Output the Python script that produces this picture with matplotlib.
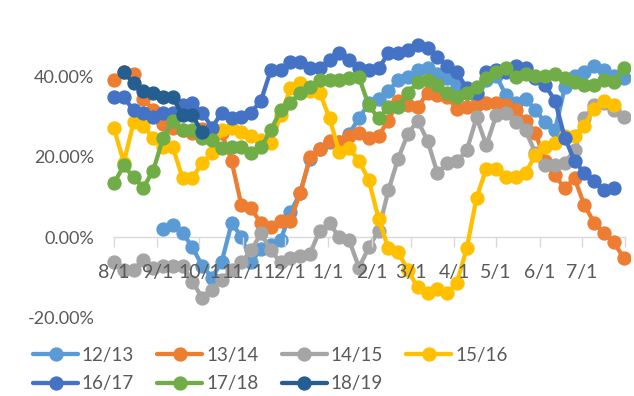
import numpy as np
import matplotlib
matplotlib.use("Agg")
import matplotlib.pyplot as plt
from matplotlib.ticker import FixedLocator, FuncFormatter

plt.rcParams['font.family'] = ['Lato', 'DejaVu Sans']
plt.rcParams['axes.unicode_minus'] = False

# weekly values (%), each series starts at week index *_start (week 0 = 8/1)
s1213_start = 5
s1213 = [2.2, 3.0, 1.2, -2.5, -7, -10, -6, 3.5, 0.2, -6,
         -3, -2, -0.7, 6.2, 11, 19.6, 22, 23.6, 23.6, 25.8,
         29.6, 33.3, 34.5, 36.5, 39, 39.8, 41.5, 42, 40.7, 39.5,
         37.8, 35.8, 34.8, 39, 40.2, 35.3, 33.5, 34.5, 31.6, 28.6,
         26.6, 37.3, 40.2, 41, 42.7, 41.5, 40.2, 39.5]
s1314_start = 0
s1314 = [39, 41, 40.7, 34.5, 31.6, 28.3, 27.3, 26.6, 26, 27,
         27, 26, 19, 8, 7.2, 3.5, 2.5, 4.2, 4.2, 11,
         19.9, 22, 24, 23.6, 25.3, 26, 24.8, 25.3, 29, 34,
         32.8, 32.3, 36, 35.3, 34.8, 32, 32.3, 32.8, 33.3, 33.3,
         32.8, 31.6, 29, 26, 19, 15.4, 12.2, 14.7, 8, 3.7,
         1, -1.2, -5]
s1415_start = 0
s1415 = [-6, -8, -8, -5.5, -7.5, -7, -7, -7, -11, -15,
         -13, -10.5, -8, -6.2, -3.2, 1, -3.2, -6.2, -5.2, -4.5,
         -4, 1.7, 3.5, 0, -0.7, -7.5, -2.5, 1.7, 11.7, 19.6,
         25.8, 29, 24, 16, 18.4, 19, 21.6, 29.8, 22.9, 30.3,
         30.8, 28.6, 26.6, 21, 17.9, 17.9, 18.6, 21.6, 29.6, 32.8,
         33.3, 31.6, 29.8]
s1516_start = 0
s1516 = [27.1, 18.6, 28.6, 27.8, 24.6, 22.4, 22.4, 14.7, 14.7, 18.6,
         20.9, 26.6, 27.1, 26.1, 25.3, 24.1, 23.4, 30.3, 37, 38.3,
         36.5, 36, 29.6, 21.1, 22.1, 19.1, 14.2, 4.7, -2.7, -3.7,
         -8.2, -12.4, -13.9, -12.7, -13.9, -11.2, -2.7, 9.9, 17.1, 17.1,
         14.9, 14.9, 16.1, 20.4, 22.4, 23.4, 25.3, 25.3, 27.8, 32,
         34, 32.8]
s1617_start = 0
s1617 = [34.8, 34.8, 31.6, 31.0, 29.8, 31.0, 30.8, 32.8, 33.3, 31.0,
         27.3, 31.0, 29.6, 29.8, 31.0, 34.0, 41.5, 41.5, 43.5, 43.5,
         42.2, 42.2, 44.0, 45.7, 44.0, 42.2, 41.5, 42.0, 45.7, 45.7,
         46.5, 47.7, 47.0, 44.7, 42.7, 41.0, 37.0, 36.0, 41.0, 41.5,
         41.0, 42.7, 42.0, 39.5, 37.8, 34.0, 24.8, 19.0, 16.0, 14.0,
         11.7, 12.4]
s1718_start = 0
s1718 = [13.4, 17.9, 14.9, 12.4, 16.6, 24.6, 29.0, 26.6, 26.6, 24.8,
         24.1, 22.1, 22.4, 22.4, 20.9, 22.4, 26.6, 31.6, 33.5, 36.0,
         37.3, 39.0, 39.0, 39.0, 39.5, 39.8, 32.8, 29.6, 32.3, 32.3,
         36.0, 38.5, 39.0, 37.8, 36.0, 35.0, 35.8, 37.3, 39.5, 41.0,
         42.0, 39.8, 40.7, 40.2, 40.2, 40.7, 39.5, 38.5, 37.8, 37.8,
         39.0, 38.5, 42.0]
s1819_start = 1
s1819 = [41, 38.3, 36.5, 36, 35, 34.8, 30.3, 30.3, 26.1]

names = ['12/13', '13/14', '14/15', '15/16', '16/17', '17/18', '18/19']
colors = ['#5B9BD5', '#ED7D31', '#A5A5A5', '#FFC000', '#4472C4', '#70AD47', '#255E91']
series = [(s1213_start, s1213), (s1314_start, s1314), (s1415_start, s1415),
          (s1516_start, s1516), (s1617_start, s1617), (s1718_start, s1718),
          (s1819_start, s1819)]

month_days = [0, 31, 61, 92, 122, 153, 184, 212, 243, 273, 304, 334, 365]
month_labels = ['8/1', '9/1', '10/1', '11/1', '12/1', '1/1', '2/1', '3/1',
                '4/1', '5/1', '6/1', '7/1', '']

fig = plt.figure(figsize=(6.34, 3.96), dpi=100)
ax = fig.add_axes([100/634, 66/396, 530/634, 320/396])

lines = []
for (start, vals), name, col in zip(series, names, colors):
    days = 7 * (start + np.arange(len(vals)))
    ln, = ax.plot(days, np.array(vals) / 100, color=col, lw=3.1, marker='o',
                  ms=9.3, label=name, solid_capstyle='round')
    lines.append(ln)

ax.set_xlim(-10, 368.6)
ax.set_ylim(-0.23, 0.565)
ax.set_axisbelow(False)  # axis labels drawn over the lines, like the original

for s in ['left', 'right', 'top']:
    ax.spines[s].set_visible(False)
ax.spines['bottom'].set_position(('data', 0))
ax.spines['bottom'].set_color('#D9D9D9')
ax.spines['bottom'].set_linewidth(1)
ax.spines['bottom'].set_bounds(0, 365)
ax.spines['bottom'].set_zorder(1)

ax.xaxis.set_major_locator(FixedLocator(month_days))
ax.set_xticklabels(month_labels)
ax.tick_params(axis='x', direction='out', length=7, width=1, color='#D9D9D9',
               labelsize=14, labelcolor='#595959', pad=12)

ax.yaxis.set_major_locator(FixedLocator([-0.2, 0, 0.2, 0.4]))
ax.yaxis.set_major_formatter(FuncFormatter(lambda v, p: f'{v*100:.2f}%'))
ax.tick_params(axis='y', length=0, labelsize=13, labelcolor='#595959', pad=4)

order = [0, 4, 1, 5, 2, 6, 3]
leg = fig.legend([lines[i] for i in order], [names[i] for i in order],
                 ncol=4, loc='upper left', bbox_to_anchor=(33/634, 1 - 347/396),
                 frameon=False, fontsize=13.5, handlelength=2.4,
                 handletextpad=0.2, columnspacing=1.25, labelspacing=0.6,
                 borderpad=0, borderaxespad=0)
for t in leg.get_texts():
    t.set_color('#595959')

plt.savefig('out.png', dpi=100)
